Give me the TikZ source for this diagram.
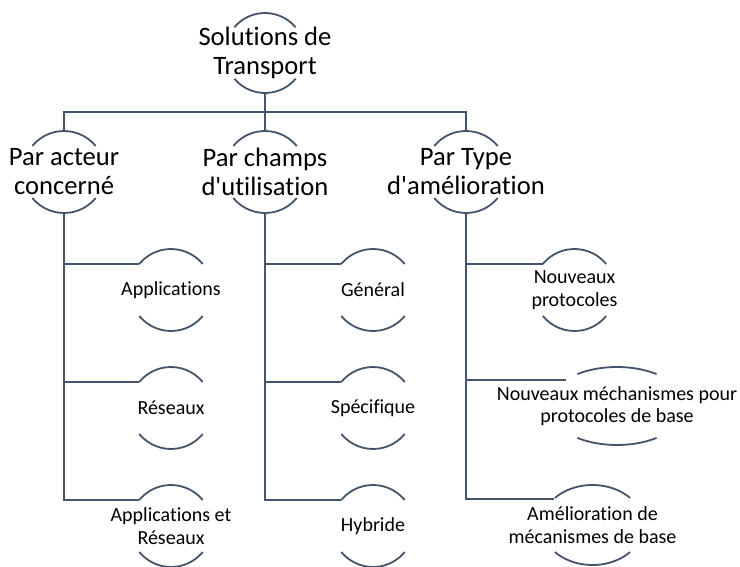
\documentclass[tikz,border=0pt]{standalone}
\usepackage{fontspec}
\setmainfont{Carlito}[Ligatures={TeXOff,NoCommon,NoContextual}]
\usetikzlibrary{calc}
\definecolor{slate}{HTML}{44546A}
\tikzset{
  arcline/.style={draw=slate, line width=1.8pt},
  conn/.style={draw=slate, line width=1.8pt},
  bigtext/.style={font=\fontsize{26.6}{29}\selectfont, align=center, inner sep=0pt, text=black},
  smalltext/.style={font=\fontsize{20}{22.5}\selectfont, align=center, inner sep=0pt, text=black}
}
% name, x, y(px, down), rx, ry, angle, style, text
\newcommand{\hnode}[8]{%
  \node[#7] (#1) at (#2,-#3) {#8};
  \draw[arcline] ($(#1.center)+({#4*cos(#6)},{#5*sin(#6)})$) arc[start angle=#6, end angle=180-#6, x radius=#4pt, y radius=#5pt];
  \draw[arcline] ($(#1.center)+({#4*cos(180+#6)},{#5*sin(180+#6)})$) arc[start angle=180+#6, end angle=360-#6, x radius=#4pt, y radius=#5pt];
  \coordinate (#1-n) at ($(#1.center)+(0,#5)$);
  \coordinate (#1-s) at ($(#1.center)+(0,-#5)$);
  \pgfmathsetmacro\wxval{#4*sqrt(1-(26/#5)^2)}
  \coordinate (#1-w) at ($(#1.center)+(-\wxval,26)$);
}
\begin{document}
\begin{tikzpicture}[x=1pt,y=1pt]
\useasboundingbox[fill=white] (0,0) rectangle (740,-567);
% root
\hnode{R}{265}{53}{40}{40}{40}{bigtext}{Solutions de\\Transport}
% level 1
\hnode{A}{64}{172}{41}{41}{39.4}{bigtext}{Par acteur\\concerné}
\hnode{B}{265}{172}{41}{41}{39.4}{bigtext}{Par champs\\d'utilisation}
\hnode{C}{466}{172}{41}{41}{39.4}{bigtext}{Par Type\\d'amélioration}
% children left
\hnode{A1}{171}{290}{41}{41}{39.4}{smalltext}{Applications}
\hnode{A2}{171}{408}{41}{41}{39.4}{smalltext}{Réseaux}
\hnode{A3}{171}{526}{41}{41}{39.4}{smalltext}{Applications et\\Réseaux}
% children middle
\hnode{B1}{373}{290}{41}{41}{39.4}{smalltext}{Général}
\hnode{B2}{373}{408}{41}{41}{39.4}{smalltext}{Spécifique}
\hnode{B3}{373}{526}{41}{41}{39.4}{smalltext}{Hybride}
% children right
\hnode{C1}{574.5}{290}{41}{41}{39.4}{smalltext}{Nouveaux\\protocoles}
\hnode{C2}{617}{406}{69}{39}{55}{smalltext}{Nouveaux méchanismes pour\\protocoles de base}
\hnode{C3}{592.5}{525}{51}{40}{42.5}{smalltext}{Amélioration de\\mécanismes de base}
% connectors top
\draw[conn] (R-s) -- (B-n);
\draw[conn] (A-n) -- ++(0,19) -| (C-n);
% left column
\draw[conn] (A-s) |- (A3-w);
\draw[conn] (A-s |- A1-w) -- (A1-w);
\draw[conn] (A-s |- A2-w) -- (A2-w);
% middle column
\draw[conn] (B-s) |- (B3-w);
\draw[conn] (B-s |- B1-w) -- (B1-w);
\draw[conn] (B-s |- B2-w) -- (B2-w);
% right column
\draw[conn] (C-s) |- (C3-w);
\draw[conn] (C-s |- C1-w) -- (C1-w);
\draw[conn] (C-s |- C2-w) -- (C2-w);
\end{tikzpicture}
\end{document}
